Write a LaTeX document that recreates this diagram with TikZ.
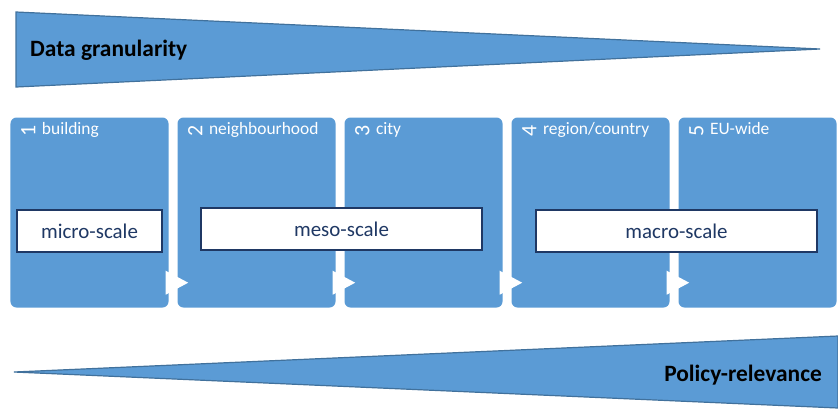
\documentclass[tikz,border=0pt]{standalone}
\usepackage{fontspec}
\setmainfont{Carlito}
\definecolor{smartblue}{HTML}{5B9BD5}
\definecolor{edgeblue}{HTML}{41719C}
\definecolor{navy}{HTML}{1F3864}

\begin{document}
\begin{tikzpicture}[x=1bp,y=-1bp,
   stage/.style={fill=smartblue,rounded corners=6bp,minimum width=158bp,minimum height=190bp,inner sep=0pt},
   stagenum/.style={rotate=90,inner sep=0pt,text=white,font=\fontsize{22}{24}\selectfont},
   stagename/.style={anchor=base west,inner sep=0pt,text=white,font=\fontsize{17.5}{20}\selectfont},
   scalebox/.style={draw=navy,line width=2bp,fill=white,text=navy,minimum height=42bp,inner sep=0pt,font=\fontsize{21}{25}\selectfont},
   wedge/.style={fill=smartblue,draw=edgeblue,line width=1.2bp},
   wedgetext/.style={inner sep=0pt,font=\fontsize{23.5}{27}\selectfont\bfseries}]
   \useasboundingbox (0,0) rectangle (838,410);
   % top and bottom wedges
   \draw[wedge] (16,12) -- (820,49) -- (16,87) -- cycle;
   \node (granularity) at (30,56) [wedgetext,anchor=base west] {Data granularity};
   \draw[wedge] (838,336) -- (14,372) -- (838,408) -- cycle;
   \node (relevance) at (822,381) [wedgetext,anchor=base east] {Policy-relevance};
   % stages
   \node (building) at (89.5,212.5) [stage] {};
   \node (neighbourhood) at (256.5,212.5) [stage] {};
   \node (city) at (423.5,212.5) [stage] {};
   \node (region) at (590.5,212.5) [stage] {};
   \node (euwide) at (757.5,212.5) [stage] {};
   \foreach \s/\n/\t in {building/1/building,neighbourhood/2/neighbourhood,city/3/city,region/4/region\slash country,euwide/5/EU-wide} {
      \node (\s-num) at ([xshift=18bp,yshift=-13.5bp]\s.north west) [stagenum] {\n};
      \node (\s-name) at ([xshift=31.5bp,yshift=-17.5bp]\s.north west) [stagename] {\t};
   }
   % white arrows between stages
   \foreach \a in {building,neighbourhood,city,region}
      \fill[white] ([xshift=-3bp,yshift=37bp]\a.south east) -- ([xshift=19.5bp,yshift=25bp]\a.south east)
         -- ([xshift=-3bp,yshift=13bp]\a.south east) -- cycle;
   % scales
   \node (micro) at (89.5,231) [scalebox,minimum width=145bp] {micro-scale};
   \node (meso) at (341.5,229) [scalebox,minimum width=281bp] {meso-scale};
   \node (macro) at (676.5,231) [scalebox,minimum width=281bp] {macro-scale};
\end{tikzpicture}
\end{document}
